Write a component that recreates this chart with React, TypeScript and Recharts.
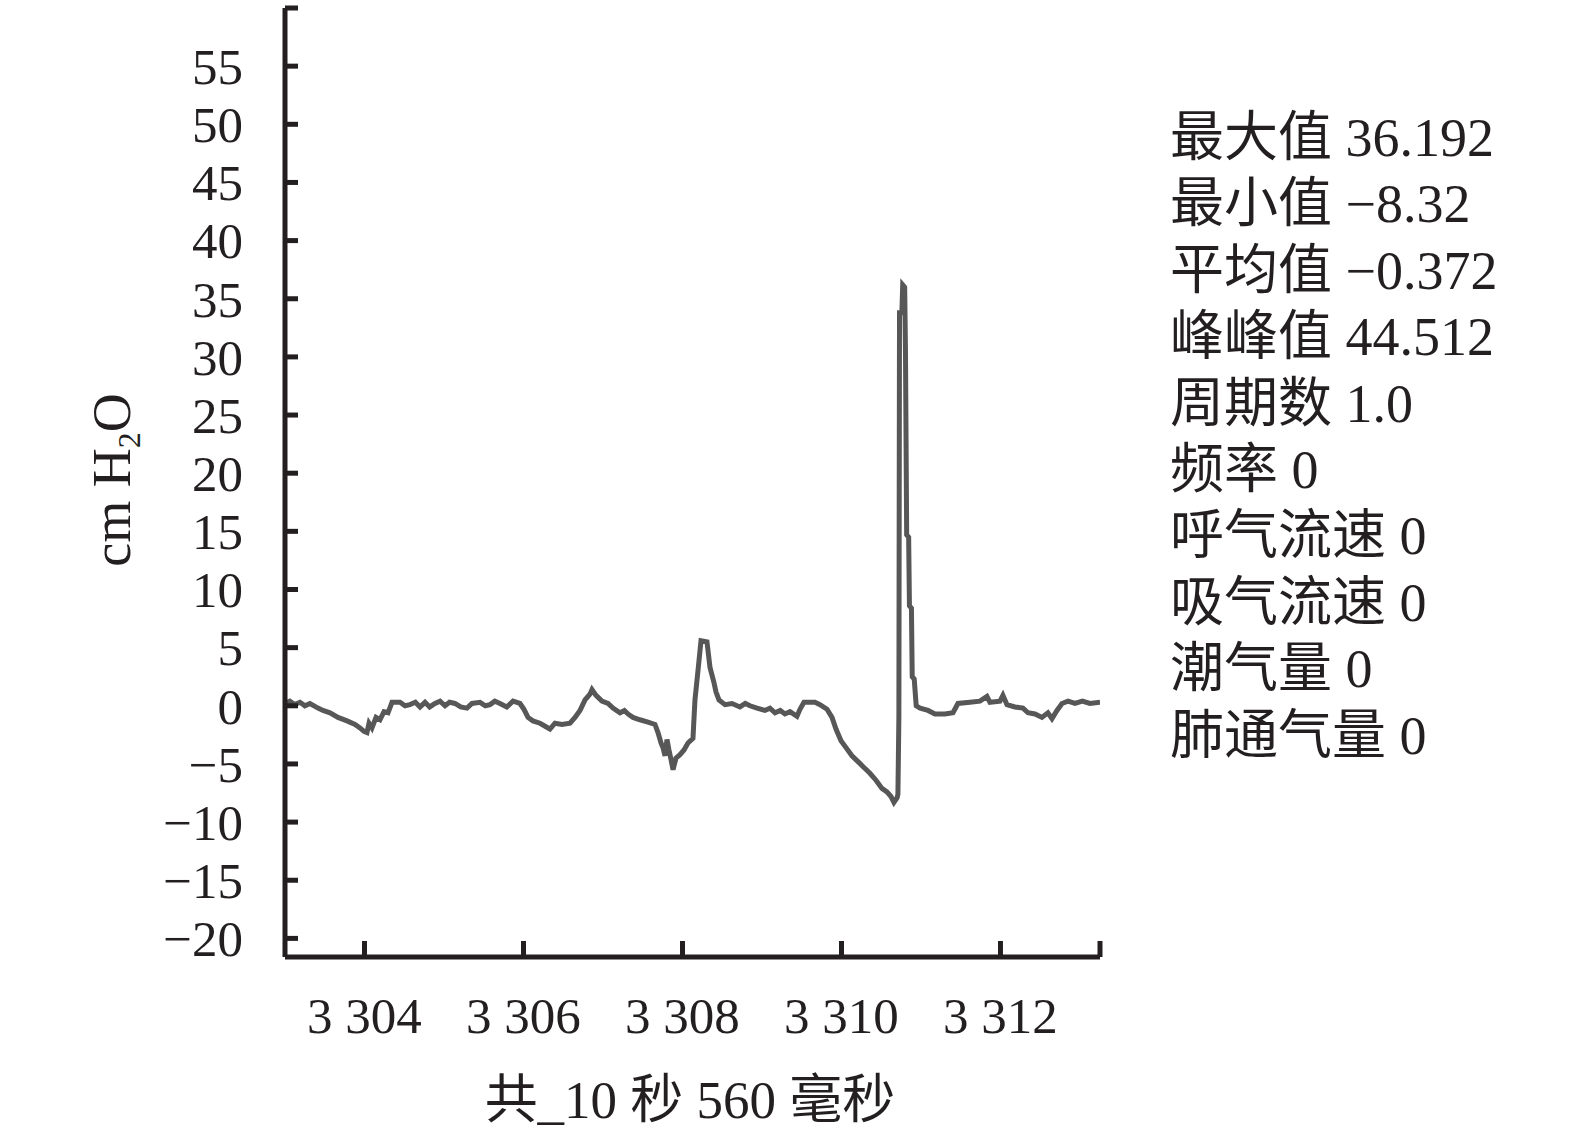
import { LineChart, Line, XAxis, YAxis } from "recharts";

// time (s) and airway pressure (cmH2O)
const timeSec = [
  3303.0, 3303.06, 3303.12, 3303.189, 3303.25, 3303.314, 3303.415, 3303.478, 3303.566, 3303.667, 3303.78,
  3303.881, 3303.943, 3303.994, 3304.031, 3304.057, 3304.094, 3304.145, 3304.195,
  3304.245, 3304.296, 3304.346, 3304.447, 3304.51, 3304.572, 3304.64, 3304.698, 3304.761, 3304.82, 3304.887,
  3304.95, 3305.013, 3305.07, 3305.138, 3305.21, 3305.289, 3305.352, 3305.453, 3305.52, 3305.579, 3305.64, 3305.704, 3305.79, 3305.868,
  3305.956, 3306.006, 3306.057, 3306.119, 3306.208, 3306.283, 3306.333, 3306.396,
  3306.484, 3306.585, 3306.648, 3306.711, 3306.774, 3306.836, 3306.862, 3306.912,
  3306.987, 3307.063, 3307.126, 3307.214, 3307.27, 3307.314, 3307.377, 3307.465, 3307.566,
  3307.654, 3307.692, 3307.73, 3307.755, 3307.78, 3307.805, 3307.83, 3307.855,
  3307.881, 3307.918, 3307.969, 3308.019, 3308.069, 3308.132, 3308.157, 3308.208,
  3308.233, 3308.308, 3308.346, 3308.396, 3308.421, 3308.459, 3308.535, 3308.623,
  3308.723, 3308.79, 3308.849, 3308.937, 3309.038, 3309.1, 3309.164, 3309.23, 3309.289, 3309.352, 3309.44,
  3309.478, 3309.528, 3309.667, 3309.73, 3309.818, 3309.881, 3309.931, 3309.994,
  3310.057, 3310.132, 3310.208, 3310.283, 3310.358, 3310.434, 3310.509, 3310.572,
  3310.623, 3310.66, 3310.7, 3310.71, 3310.722, 3310.73, 3310.76, 3310.77,
  3310.795, 3310.805, 3310.82, 3310.845, 3310.855, 3310.88, 3310.89, 3310.915,
  3310.94, 3310.99, 3311.088, 3311.176, 3311.302, 3311.403, 3311.465, 3311.616, 3311.742,
  3311.83, 3311.868, 3311.994, 3312.031, 3312.082, 3312.182, 3312.283, 3312.346,
  3312.434, 3312.522, 3312.597, 3312.648, 3312.711, 3312.774, 3312.85, 3312.937, 3313.03, 3313.126,
  3313.252,
];

const pressure = [
  0.2, 0.4, 0.1, 0.3, 0.0, 0.2, -0.2, -0.4, -0.6, -1.0, -1.3,
  -1.6, -1.9, -2.2, -2.3, -1.5, -1.9, -1.0, -1.2,
  -0.5, -0.6, 0.3, 0.3, 0.0, 0.1, 0.3, -0.1, 0.3, -0.1, 0.2,
  0.4, 0.0, 0.3, 0.2, -0.1, -0.2, 0.2, 0.3, 0.0, 0.1, 0.4, 0.2, -0.1, 0.4,
  0.2, -0.3, -1.0, -1.3, -1.5, -1.8, -2.0, -1.5,
  -1.6, -1.5, -1.0, -0.4, 0.5, 1.0, 1.4, 0.9,
  0.4, 0.2, -0.2, -0.6, -0.4, -0.7, -1.0, -1.2, -1.4,
  -1.6, -2.3, -3.2, -3.6, -4.3, -2.9, -3.8, -4.6,
  -5.5, -4.5, -4.2, -3.8, -3.2, -2.8, 0.5, 3.9,
  5.6, 5.5, 3.3, 2.0, 1.2, 0.5, 0.1, 0.2,
  -0.1, 0.2, 0.0, -0.2, -0.4, -0.2, -0.6, -0.4, -0.7, -0.5, -0.9,
  -0.3, 0.3, 0.3, 0.1, -0.3, -1.0, -2.0, -3.0,
  -3.6, -4.3, -4.8, -5.3, -5.8, -6.4, -7.1, -7.4,
  -7.8, -8.3, -7.9, -7.6, -1.0, 33.8, 33.8, 36.2,
  36.0, 30.5, 14.7, 14.5, 8.6, 8.4, 2.5, 2.3,
  0.0, -0.2, -0.4, -0.7, -0.7, -0.6, 0.2, 0.3, 0.4,
  0.8, 0.3, 0.4, 0.9, 0.1, -0.1, -0.2, -0.6,
  -0.7, -1.0, -0.6, -1.1, -0.4, 0.2, 0.4, 0.2, 0.4, 0.2,
  0.3,
];

const xTicks = [3304, 3306, 3308, 3310, 3312, 3313.252];
const xTickLabels = ["3 304", "3 306", "3 308", "3 310", "3 312", ""];
const yTicks = [-20, -15, -10, -5, 0, 5, 10, 15, 20, 25, 30, 35, 40, 45, 50, 55, 60];

const statNames = ["最大值", "最小值", "平均值", "峰峰值", "周期数", "频率", "呼气流速", "吸气流速", "潮气量", "肺通气量"];
const statValues = ["36.192", "−8.32", "−0.372", "44.512", "1.0", "0", "0", "0", "0", "0"];

const INK = "#231f20";
const FONT = '"Liberation Serif", "Noto Sans CJK SC", serif';

const fmtY = (v: number) => (v === 60 ? "" : v < 0 ? `−${Math.abs(v)}` : `${v}`);

function YTick(props: any) {
  const { x, y, payload } = props;
  return (
    <g>
      <line x1={x} x2={x + 13} y1={y} y2={y} stroke={INK} strokeWidth={5} />
      <text x={x - 42} y={y} dy="0.35em" textAnchor="end" fontSize={51} fill={INK} fontFamily={FONT}>
        {fmtY(payload.value)}
      </text>
    </g>
  );
}

function XTick(props: any) {
  const { x, y, payload, index } = props;
  return (
    <g>
      <line x1={x} x2={x} y1={y} y2={y - 16} stroke={INK} strokeWidth={5} />
      <text x={x} y={y + 58} dy="0.35em" textAnchor="middle" fontSize={51} fill={INK} fontFamily={FONT}>
        {xTickLabels[index] ?? ""}
      </text>
    </g>
  );
}

export default function App() {
  const data = timeSec.map((t, i) => ({ t, p: pressure[i] }));

  return (
    <div style={{ position: "absolute", left: 0, top: 0, width: 1575, height: 1138, background: "#fff", fontFamily: FONT, color: INK }}>
      <LineChart width={1575} height={1138} data={data} margin={{ top: 8, right: 475, bottom: 151, left: 225 }}>
        <XAxis
          dataKey="t"
          type="number"
          domain={[3303, 3313.252]}
          ticks={xTicks}
          allowDataOverflow
          height={30}
          tickSize={0}
          tickMargin={0}
          tickLine={false}
          axisLine={{ stroke: INK, strokeWidth: 5 }}
          tick={<XTick />}
          interval={0}
        />
        <YAxis
          type="number"
          domain={[-21.6, 60]}
          ticks={yTicks}
          allowDataOverflow
          width={60}
          tickSize={0}
          tickMargin={0}
          tickLine={false}
          axisLine={{ stroke: INK, strokeWidth: 5 }}
          tick={<YTick />}
          interval={0}
        />
        <Line
          type="linear"
          dataKey="p"
          stroke="#575757"
          strokeWidth={5}
          dot={false}
          isAnimationActive={false}
        />
      </LineChart>

      <div
        style={{
          position: "absolute",
          left: 112 - 150,
          top: 480 - 35,
          width: 300,
          height: 70,
          lineHeight: "70px",
          textAlign: "center",
          fontSize: 54,
          transform: "rotate(-90deg)",
          whiteSpace: "nowrap",
        }}
      >
        cm H<sub style={{ fontSize: 32, verticalAlign: "-10px" }}>2</sub>O
      </div>

      <div
        style={{
          position: "absolute",
          left: 690 - 300,
          top: 1100 - 35,
          width: 600,
          height: 70,
          lineHeight: "70px",
          textAlign: "center",
          fontSize: 53,
          whiteSpace: "nowrap",
        }}
      >
        共_10 秒 560 毫秒
      </div>

      {statNames.map((name, i) => (
        <div
          key={name}
          style={{
            position: "absolute",
            left: 1170,
            top: 138 + i * 66.4 - 33,
            height: 66,
            lineHeight: "66px",
            fontSize: 54,
            whiteSpace: "nowrap",
          }}
        >
          {name} {statValues[i]}
        </div>
      ))}
    </div>
  );
}
